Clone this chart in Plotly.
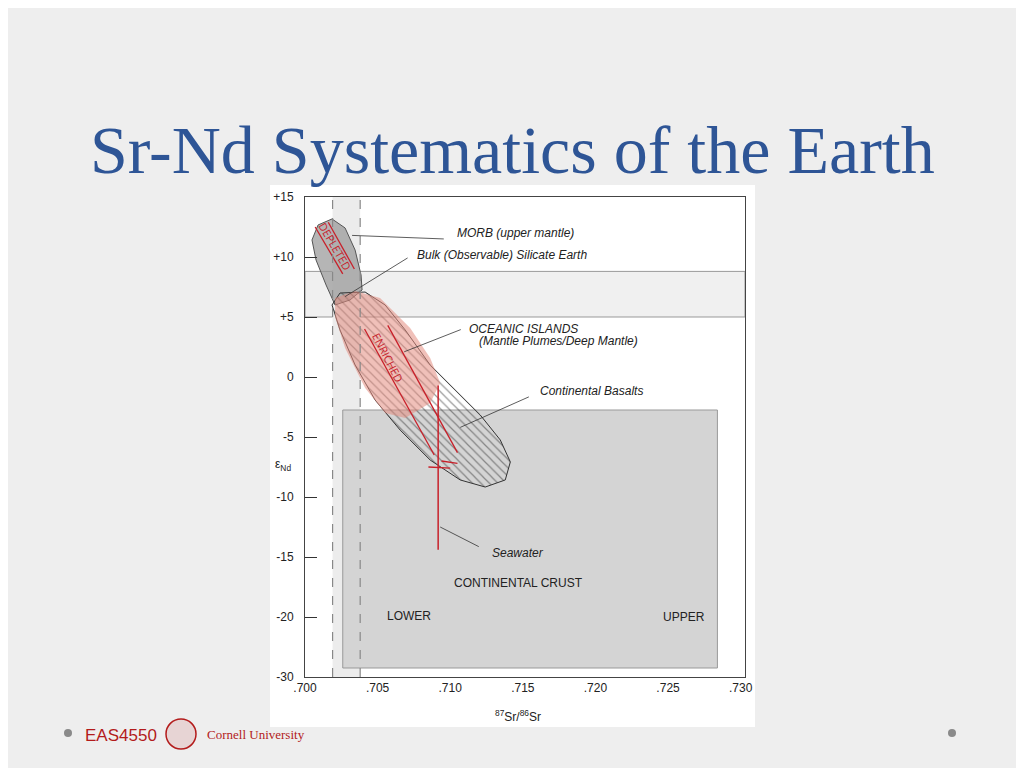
import plotly.graph_objects as go

# ---- data (Sr ratio, epsilon Nd display units; -25 displayed as "-30") ----
x_ticks = [0.700, 0.705, 0.710, 0.715, 0.720, 0.725, 0.730]
x_tick_labels = [".700", ".705", ".710", ".715", ".720", ".725", ".730"]
y_ticks = [15, 10, 5, 0, -5, -10, -15, -20, -25]
y_tick_labels = ["+15", "+10", "+5", "0", "-5", "-10", "-15", "-20", "-30"]

morb_sr = [.70186, .70276, .70345, .70386, .70393, .7031, .70207, .70145, .70076, .70048, .7009]
morb_nd = [13.17, 12.42, 10.58, 8.5, 7.25, 6.42, 6.0, 7.67, 9.75, 11.42, 12.67]

oib_sr = [.70241, .70414, .70552, .7069, .70862, .71034, .71207, .71345, .71414, .71379, .71241, .71069, .70862, .70655, .70483, .70345, .70241, .70186]
oib_nd = [7.0, 7.08, 6.0, 3.92, 1.0, -1.08, -3.17, -5.25, -7.08, -8.58, -9.17, -8.58, -6.92, -4.42, -1.92, 1.0, 3.92, 6.0]

pink_sr = [.70207, .70345, .70517, .70724, .70862, .70931, .70862, .70690, .70552, .70414, .70276, .70207]
pink_nd = [6.58, 7.17, 6.58, 4.08, 1.58, -0.5, -2.17, -3.42, -3.0, -0.92, 2.42, 5.0]

bse_band = [5.0, 8.8]
bse_sr = [0.7019, 0.7038]
crust_sr = [0.7026, 0.7284]
crust_nd = [-24.25, -2.75]

depl_sr = [[.7007, .7026], [.7016, .7034]]
depl_nd = [[12.5, 8.6], [12.9, 9.0]]
enr_sr = [[.7041, .7089], [.7057, .7105], [.7085, .71], [.7094, .7105]]
enr_nd = [[4.0, -6.5], [4.3, -6.3], [-7.5, -7.6], [-7.0, -7.2]]
sea_sr = [0.70917, 0.70917]
sea_nd = [-0.7, -14.4]

fig = go.Figure()
RED = "#c8202a"
OX, OY = 8, 8  # page offset
L, T = 305 - OX, 197 - OY
def px(p): return (p - OX - L) / 440
def py(p): return (677 - p) / 480

fig.add_shape(type="rect", xref="paper", yref="paper", x0=px(270), x1=px(755), y0=py(727), y1=py(185),
              fillcolor="white", line_width=0, layer="below")
fig.add_shape(type="rect", x0=bse_sr[0], x1=bse_sr[1], y0=-25, y1=15, fillcolor="#ececec", line_width=0, layer="below")
fig.add_shape(type="rect", xref="paper", x0=0, x1=1, y0=bse_band[0], y1=bse_band[1], fillcolor="rgba(225,225,225,0.5)",
              line=dict(color="#999", width=1), layer="below")
for xv in bse_sr:
    fig.add_shape(type="line", x0=xv, x1=xv, y0=-25, y1=15, line=dict(color="#888", width=1.2, dash="dash"))
fig.add_shape(type="rect", x0=crust_sr[0], x1=crust_sr[1], y0=crust_nd[0], y1=crust_nd[1],
              fillcolor="#d4d4d4", line=dict(color="#999", width=1), layer="below")

fig.add_trace(go.Scatter(x=morb_sr + morb_sr[:1], y=morb_nd + morb_nd[:1], fill="toself", mode="lines",
                         fillcolor="rgba(150,150,150,0.7)", line=dict(color="#555", width=1)))
fig.add_trace(go.Scatter(x=oib_sr + oib_sr[:1], y=oib_nd + oib_nd[:1], fill="toself", mode="lines",
                         fillcolor="rgba(0,0,0,0)", fillpattern=dict(shape="\\", fgcolor="#333", size=6, solidity=0.2),
                         line=dict(color="#333", width=1)))
fig.add_trace(go.Scatter(x=pink_sr + pink_sr[:1], y=pink_nd + pink_nd[:1], fill="toself", mode="lines",
                         fillcolor="rgba(228,140,128,0.55)", line=dict(width=0)))
for xs, ys in zip(depl_sr + enr_sr, depl_nd + enr_nd):
    fig.add_trace(go.Scatter(x=xs, y=ys, mode="lines", line=dict(color=RED, width=1.3)))
fig.add_trace(go.Scatter(x=sea_sr, y=sea_nd, mode="lines", line=dict(color=RED, width=1.5)))

F = dict(family="Liberation Sans, Arial", size=12, color="#222")
def lab(x, y, t, ax=None, ay=None, italic=True):
    fig.add_annotation(x=x, y=y, text=f"<i>{t}</i>" if italic else t, showarrow=False, xanchor="left", yanchor="middle", font=F)
    if ax is not None:
        fig.add_annotation(x=ax[1], y=ay[1], ax=ax[0], ay=ay[0], axref="x", ayref="y", text="",
                           showarrow=True, arrowhead=0, arrowwidth=0.8, arrowcolor="#333")

lab(0.71034, 12.0, "MORB (upper mantle)", (0.70966, 0.70324), (11.5, 11.8))
lab(0.70759, 10.2, "Bulk (Observable) Silicate Earth", (0.70717, 0.70276), (10.0, 6.7))
lab(0.71117, 4.0, "OCEANIC ISLANDS")
lab(0.71186, 3.0, "(Mantle Plumes/Deep Mantle)", (0.71083, 0.70683), (4.0, 2.1))
lab(0.71607, -1.2, "Continental Basalts", (0.71552, 0.71069), (-1.6, -4.2))
lab(0.71276, -14.7, "Seawater", (0.71207, 0.70931), (-14.2, -12.5))
lab(0.7101, -17.2, "CONTINENTAL CRUST", italic=False)
lab(0.7055, -19.9, "LOWER", italic=False)
lab(0.7245, -20.0, "UPPER", italic=False)
fig.add_annotation(x=0.7057, y=1.6, text="ENRICHED", showarrow=False, textangle=63, font=dict(size=11, color=RED))
fig.add_annotation(x=0.7021, y=10.9, text="DEPLETED", showarrow=False, textangle=60, font=dict(size=11, color=RED))

def ptext(x, y, t, font, xa="center"):
    fig.add_annotation(xref="paper", yref="paper", x=px(x), y=py(y), text=t, showarrow=False,
                       xanchor=xa, yanchor="middle", font=font)
ptext(283, 465, "ε<sub>Nd</sub>", F)
ptext(518, 716, "<sup>87</sup>Sr/<sup>86</sup>Sr", F)
ptext(512, 150, "Sr-Nd Systematics of the Earth", dict(family="Liberation Serif, DejaVu Serif", size=68, color="#2e5596"))
ptext(83, 735, "EAS4550", dict(family="Liberation Sans", size=17, color="#b31b1b"), "left")
ptext(205, 734, "Cornell University", dict(family="Liberation Serif", size=13, color="#b31b1b"), "left")
fig.add_shape(type="circle", xref="paper", yref="paper", x0=px(166), x1=px(196), y0=py(749), y1=py(719),
              line=dict(color="#b31b1b", width=1.5), fillcolor="rgba(179,27,27,0.12)")
for cx in (68, 952):
    fig.add_shape(type="circle", xref="paper", yref="paper", x0=px(cx - 4), x1=px(cx + 4),
                  y0=py(737), y1=py(729), fillcolor="#8a8a8a", line_width=0)

fig.update_layout(width=1024, height=768, margin=dict(l=L, r=1024 - L - 440, t=T, b=768 - T - 480), showlegend=False,
                  paper_bgcolor="#eeeeee", plot_bgcolor="rgba(0,0,0,0)")
fig.update_xaxes(range=[0.7, 0.7303], tickvals=x_ticks, ticktext=x_tick_labels, showgrid=False, zeroline=False,
                 showline=True, mirror=True, linecolor="#444", ticks="", tickfont=F)
fig.update_yaxes(range=[-25, 15], tickvals=y_ticks, ticktext=y_tick_labels, showgrid=False, zeroline=False,
                 showline=True, mirror=True, linecolor="#444", ticks="inside", ticklen=12, tickcolor="#333",
                 ticklabelstandoff=8, tickfont=F)
fig.write_html("out.html")
